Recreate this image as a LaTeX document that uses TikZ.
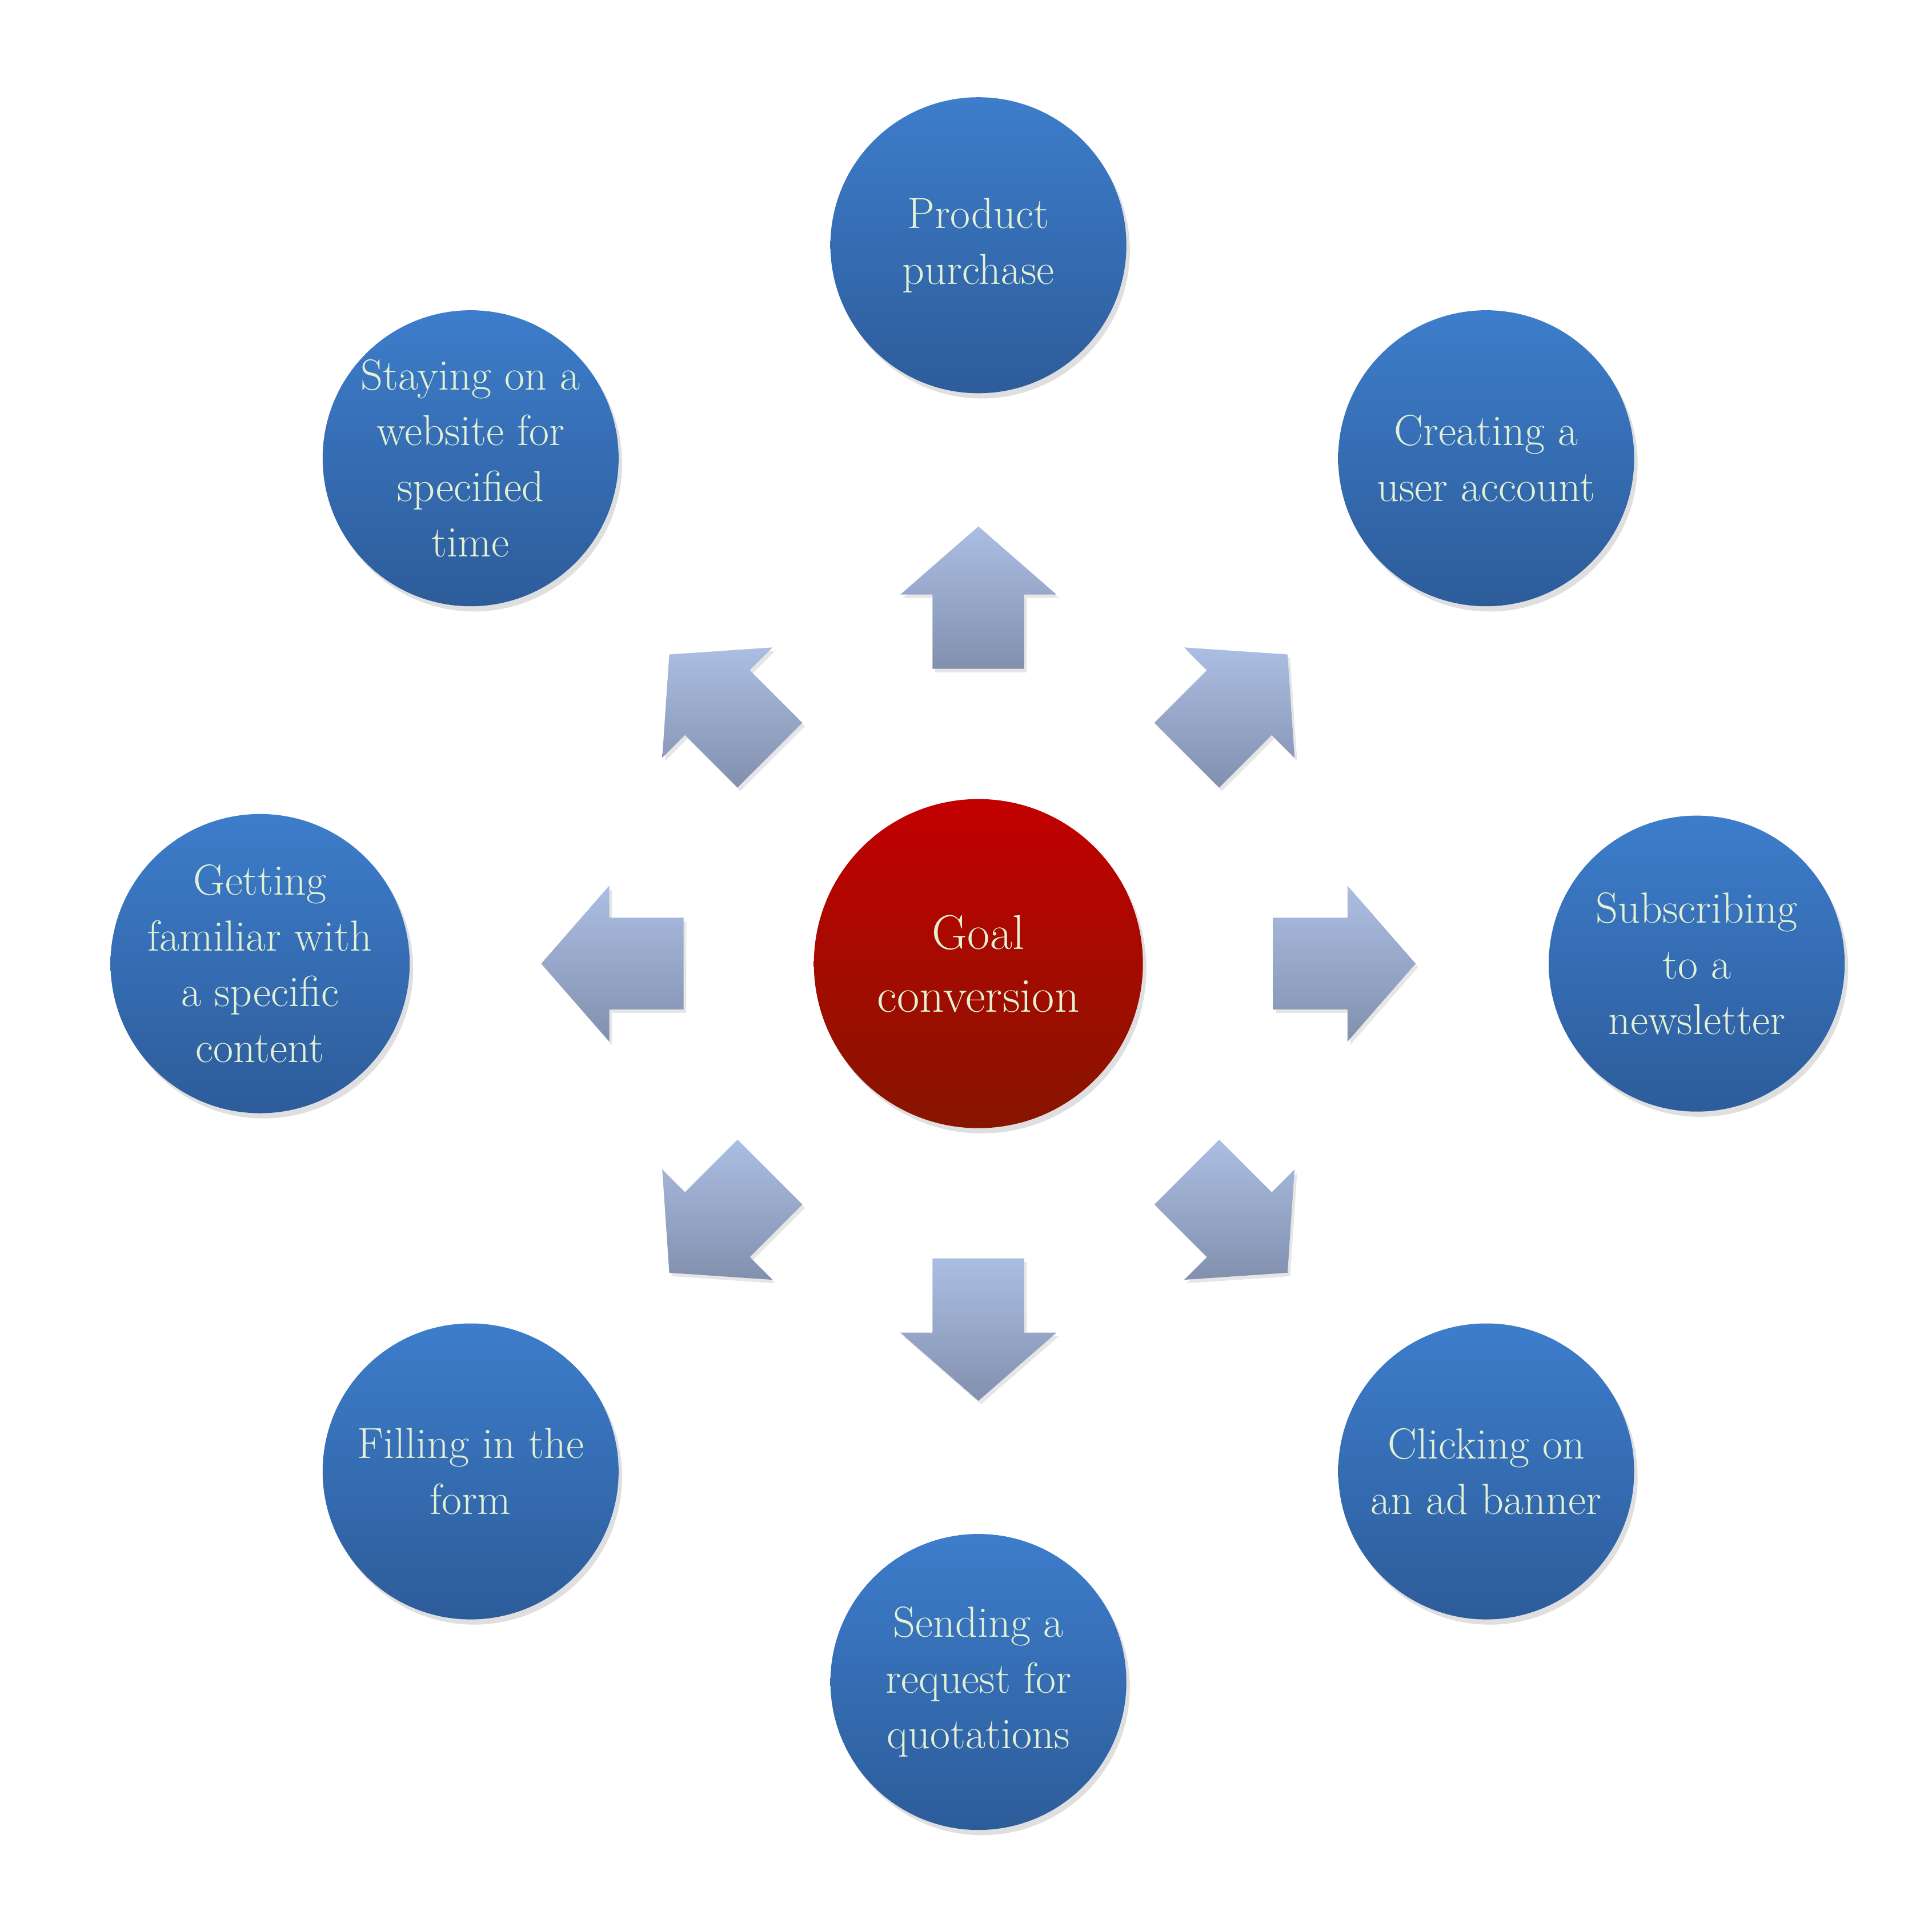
\documentclass[tikz,border=0pt]{standalone}
\usetikzlibrary{calc,shadows}
\definecolor{txt}{HTML}{E2F0D4}
\definecolor{bt}{HTML}{3D7DCB}
\definecolor{bb}{HTML}{2D5C9A}
\definecolor{rt}{HTML}{C20000}
\definecolor{rb}{HTML}{871500}
\definecolor{at}{HTML}{ABBEE3}
\definecolor{ab}{HTML}{8290AE}
\begin{document}
\begin{tikzpicture}[x=0.05cm,y=-0.05cm,
  circ/.style={circle,minimum size=340,inner sep=0pt,top color=bt,bottom color=bb,
    draw=none,text=txt,align=center,font=\fontsize{50}{64}\selectfont,
    drop shadow={opacity=0.25,shadow xshift=4pt,shadow yshift=-6pt}},
  arr/.style={top color=at,bottom color=ab,draw=none,
    drop shadow={opacity=0.2,shadow xshift=3pt,shadow yshift=-4pt}}]
\useasboundingbox (0,0) rectangle (1560,1546);
\node[circ,minimum size=378,top color=rt,bottom color=rb,font=\fontsize{56}{72}\selectfont] (c) at (790,778) {Goal\\conversion};
\node[circ] (n1) at (790,198) {Product\\purchase};
\node[circ] (n2) at (1200,370) {Creating a\\user account};
\node[circ] (n3) at (1370,778) {Subscribing\\to a\\newsletter};
\node[circ] (n4) at (1200,1188) {Clicking on\\an ad banner};
\node[circ] (n5) at (790,1358) {Sending a\\request for\\quotations};
\node[circ] (n6) at (380,1188) {Filling in the\\form};
\node[circ] (n7) at (210,778) {Getting\\familiar with\\a specific\\content};
\node[circ] (n8) at (380,370) {Staying on a\\website for\\specified\\time};
\foreach \a in {0,45,...,315}{
  \path[arr] ($(c)+(\a:238)+(\a+90:37)$) -- ($(c)+(\a:298)+(\a+90:37)$)
    -- ($(c)+(\a:298)+(\a+90:63)$) -- ($(c)+(\a:353)$)
    -- ($(c)+(\a:298)+(\a-90:63)$) -- ($(c)+(\a:298)+(\a-90:37)$)
    -- ($(c)+(\a:238)+(\a-90:37)$) -- cycle;
}
\end{tikzpicture}
\end{document}
